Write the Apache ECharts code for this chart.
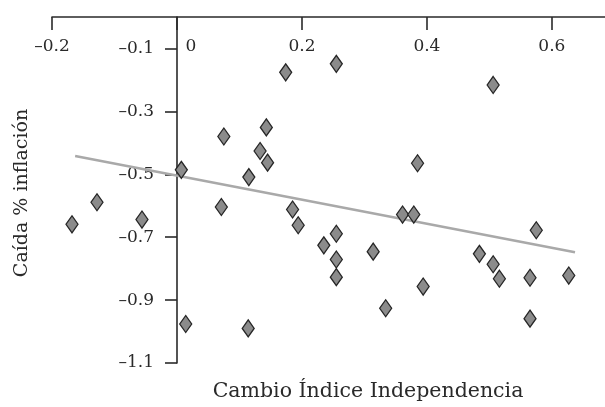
<!DOCTYPE html>
<html>
<head>
<meta charset="utf-8">
<script src="https://cdn.jsdelivr.net/npm/echarts@6/dist/echarts.min.js"></script>
<style>
  html, body { margin: 0; padding: 0; background: #ffffff; }
  #chart { width: 605px; height: 407px; }
</style>
</head>
<body>
<div id="chart"></div>
<script>
// Change in central-bank independence index vs. fall in inflation
const indiceIndependencia = [
  -0.168, -0.128, -0.056, 0.007, 0.014, 0.075, 0.071, 0.115, 0.114, 0.133,
  0.143, 0.145, 0.174, 0.185, 0.194, 0.255, 0.235, 0.255, 0.255, 0.255,
  0.314, 0.334, 0.361, 0.379, 0.385, 0.394, 0.484, 0.506, 0.506, 0.516,
  0.565, 0.565, 0.575, 0.627
];
const caidaInflacion = [
  -0.659, -0.589, -0.644, -0.486, -0.976, -0.380, -0.604, -0.509, -0.990, -0.426,
  -0.351, -0.463, -0.176, -0.612, -0.662, -0.149, -0.726, -0.689, -0.771, -0.827,
  -0.746, -0.926, -0.628, -0.628, -0.465, -0.857, -0.753, -0.216, -0.786, -0.832,
  -0.829, -0.959, -0.678, -0.822
];
// Fitted trend line end points
const tendenciaX = [-0.163, 0.637];
const tendenciaY = [-0.442, -0.748];

const xTicks = [-0.2, 0, 0.2, 0.4, 0.6];
const yTicks = [-1.1, -0.9, -0.7, -0.5, -0.3, -0.1];

const xTitle = 'Cambio Índice Independencia';
const yTitle = 'Caída % inflación';

const FONT = "'DejaVu Serif', 'Liberation Serif', serif";
const INK = '#2a2a2a';

// Plot frame: x from -0.2 to 0.685 across 553 px, so x = 0 sits 125 px in
const GRID_LEFT = 52;
const X_MIN = -0.2, X_MAX = 0.685;
const PLOT_W = 605 - GRID_LEFT;
const ZERO_OFFSET = Math.round((0 - X_MIN) / (X_MAX - X_MIN) * PLOT_W);

function fmt(v) {
  const s = String(Math.round(v * 10) / 10);
  return s.replace('-', '\u2013');
}

const puntos = indiceIndependencia.map((x, i) => [x, caidaInflacion[i]]);
const tendencia = tendenciaX.map((x, i) => [x, tendenciaY[i]]);

const chart = echarts.init(document.getElementById('chart'), null, { renderer: 'canvas' });
chart.setOption({
  animation: false,
  backgroundColor: '#ffffff',
  grid: { left: GRID_LEFT, right: 0, top: 17, bottom: 44, containLabel: false, outerBoundsMode: 'none' },
  xAxis: {
    type: 'value',
    position: 'top',
    min: X_MIN,
    max: X_MAX,
    axisLine: { onZero: false, lineStyle: { color: INK, width: 1.6 } },
    axisTick: { inside: true, length: 13, customValues: xTicks, lineStyle: { color: INK, width: 1.6 } },
    axisLabel: {
      inside: true,
      margin: 21,
      customValues: xTicks,
      fontFamily: FONT,
      fontSize: 17,
      color: INK,
      formatter: v => (v === 0 ? '{z|0}' : fmt(v)),
      rich: { z: { fontFamily: FONT, fontSize: 17, color: INK, padding: [0, 0, 0, 28] } }
    },
    splitLine: { show: false }
  },
  yAxis: {
    type: 'value',
    min: -1.1,
    max: 0,
    offset: -ZERO_OFFSET,
    axisLine: { show: true, onZero: false, lineStyle: { color: INK, width: 1.6 } },
    axisTick: { length: 12, customValues: yTicks, lineStyle: { color: INK, width: 1.6 } },
    axisLabel: {
      margin: 23,
      customValues: yTicks,
      fontFamily: FONT,
      fontSize: 17,
      color: INK,
      formatter: v => fmt(v)
    },
    splitLine: { show: false }
  },
  graphic: [
    {
      type: 'text',
      x: 368,
      y: 392,
      style: { text: xTitle, font: '20.5px ' + FONT, fill: INK, align: 'center', verticalAlign: 'middle' }
    },
    {
      type: 'text',
      x: 22,
      y: 193,
      rotation: Math.PI / 2,
      style: { text: yTitle, font: '19px ' + FONT, fill: INK, align: 'center', verticalAlign: 'middle' }
    }
  ],
  series: [
    {
      type: 'line',
      data: tendencia,
      symbol: 'none',
      silent: true,
      z: 1,
      lineStyle: { color: '#a9a9a9', width: 2.6 }
    },
    {
      type: 'scatter',
      data: puntos,
      symbol: 'diamond',
      symbolSize: [12, 17],
      z: 3,
      itemStyle: { color: '#8b8b8b', borderColor: '#262626', borderWidth: 1.3, opacity: 1 }
    }
  ]
});
</script>
</body>
</html>
